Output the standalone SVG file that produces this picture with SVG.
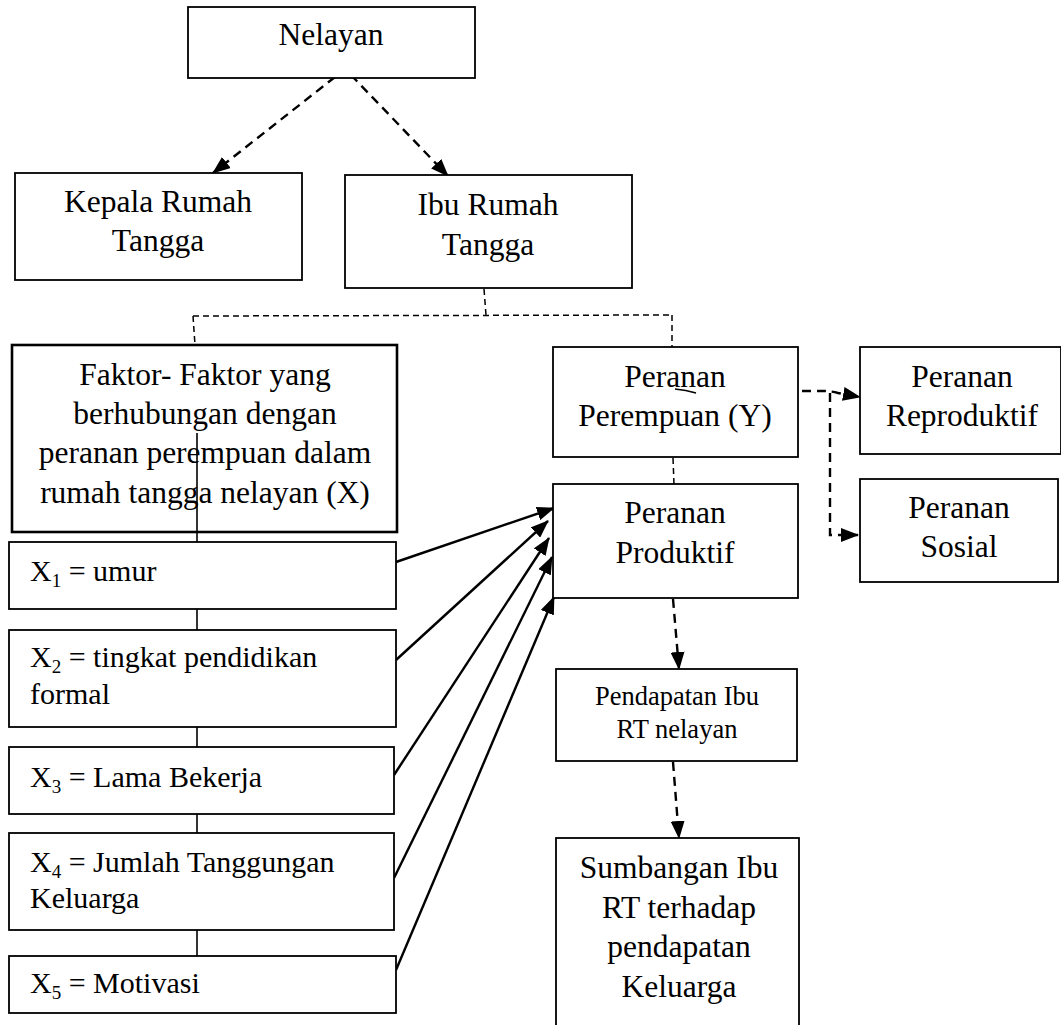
<svg xmlns="http://www.w3.org/2000/svg" width="1061" height="1025" viewBox="0 0 1061 1025">
<style>
  .box { fill: #fff; stroke: #000; stroke-width: 1.8; }
  .thick { fill: #fff; stroke: #000; stroke-width: 2.6; }
  .t { font-family: "Liberation Serif", "Times New Roman", serif; font-size: 31.5px; fill: #000; text-anchor: middle; }
  .ts { font-family: "Liberation Serif", "Times New Roman", serif; font-size: 26.5px; fill: #000; text-anchor: middle; }
  .tx { font-family: "Liberation Serif", "Times New Roman", serif; font-size: 30px; fill: #000; }
  .sub { font-size: 19px; }
  .dash { fill: none; stroke: #000; stroke-width: 2.4; stroke-dasharray: 9 6; }
  .dthin { fill: none; stroke: #000; stroke-width: 1.5; stroke-dasharray: 6 4; }
  .solid { fill: none; stroke: #000; stroke-width: 2.4; }
  .thin { fill: none; stroke: #000; stroke-width: 1.6; }
</style>
<defs>
  <marker id="ah" markerUnits="userSpaceOnUse" markerWidth="18" markerHeight="14" viewBox="0 0 18 14" refX="17" refY="7" orient="auto">
    <path d="M0,0 L18,7 L0,14 Z" fill="#000"/>
  </marker>
</defs>
<rect width="1061" height="1025" fill="#fff"/>

<g id="node-faktor">
  <rect class="thick" x="12" y="345" width="385" height="187"/>
  <text class="t" x="205" y="385">Faktor- Faktor yang</text>
  <text class="t" x="205" y="424">berhubungan dengan</text>
  <text class="t" x="205" y="463">peranan perempuan dalam</text>
  <text class="t" x="205" y="503">rumah tangga nelayan (X)</text>
</g>

<g id="connectors">
  <path class="dash" d="M335,77 L213,173" marker-end="url(#ah)"/>
  <path class="dash" d="M351,75 L448,176" marker-end="url(#ah)"/>
  <path class="dthin" d="M484,289 L486,315"/>
  <path class="dthin" d="M193,316 L672,315"/>
  <path class="dthin" d="M193,316 L195,345"/>
  <path class="dthin" d="M672,315 L672,347"/>
  <path class="dthin" d="M673,458 L674,484"/>
  <path class="thin" d="M197,433 L197,956"/>
  <path class="solid" d="M396,562 L554,508" marker-end="url(#ah)"/>
  <path class="solid" d="M396,660 L548,521" marker-end="url(#ah)"/>
  <path class="solid" d="M394,775 L549,538" marker-end="url(#ah)"/>
  <path class="solid" d="M394,878 L552,557" marker-end="url(#ah)"/>
  <path class="solid" d="M396,970 L554,597" marker-end="url(#ah)"/>
  <path class="dash" d="M673,599 L679,669" marker-end="url(#ah)"/>
  <path class="dash" d="M673,762 L679,838" marker-end="url(#ah)"/>
  <path class="dash" d="M802,391 L825,391 Q831,391 838,393 L860,397" marker-end="url(#ah)"/>
  <path class="dash" d="M830,393 L830,535 L858,535" marker-end="url(#ah)"/>
</g>

<g id="node-nelayan">
  <rect class="box" x="188" y="7" width="287" height="71"/>
  <text class="t" x="331" y="45">Nelayan</text>
</g>
<g id="node-kepala">
  <rect class="box" x="15" y="173" width="287" height="107"/>
  <text class="t" x="158" y="212">Kepala Rumah</text>
  <text class="t" x="158" y="251">Tangga</text>
</g>
<g id="node-ibu">
  <rect class="box" x="345" y="175" width="287" height="113"/>
  <text class="t" x="488" y="215">Ibu Rumah</text>
  <text class="t" x="488" y="255">Tangga</text>
</g>
<g id="node-x1">
  <rect class="box" x="9" y="542" width="387" height="67"/>
  <text class="tx" x="30" y="581">X<tspan class="sub" dy="6">1</tspan><tspan dy="-6"> = umur</tspan></text>
</g>
<g id="node-x2">
  <rect class="box" x="9" y="630" width="387" height="97"/>
  <text class="tx" x="30" y="667">X<tspan class="sub" dy="6">2</tspan><tspan dy="-6"> = tingkat pendidikan</tspan></text>
  <text class="tx" x="30" y="704">formal</text>
</g>
<g id="node-x3">
  <rect class="box" x="9" y="747" width="385" height="67"/>
  <text class="tx" x="30" y="787">X<tspan class="sub" dy="6">3</tspan><tspan dy="-6"> = Lama Bekerja</tspan></text>
</g>
<g id="node-x4">
  <rect class="box" x="9" y="833" width="385" height="97"/>
  <text class="tx" x="30" y="872">X<tspan class="sub" dy="6">4</tspan><tspan dy="-6"> = Jumlah Tanggungan</tspan></text>
  <text class="tx" x="30" y="908">Keluarga</text>
</g>
<g id="node-x5">
  <rect class="box" x="9" y="956" width="387" height="57"/>
  <text class="tx" x="30" y="993">X<tspan class="sub" dy="6">5</tspan><tspan dy="-6"> = Motivasi</tspan></text>
</g>
<g id="node-perempuan">
  <rect class="box" x="553" y="347" width="245" height="110"/>
  <text class="t" x="675" y="387">Peranan</text>
  <text class="t" x="675" y="426">Perempuan (Y)</text>
  <path d="M675,389 Q686,390 696,393" fill="none" stroke="#000" stroke-width="1.5"/>
</g>
<g id="node-produktif">
  <rect class="box" x="553" y="484" width="245" height="114"/>
  <text class="t" x="675" y="523">Peranan</text>
  <text class="t" x="675" y="563">Produktif</text>
</g>
<g id="node-reproduktif">
  <rect class="box" x="860" y="347" width="201" height="107"/>
  <text class="t" x="962" y="387">Peranan</text>
  <text class="t" x="962" y="426">Reproduktif</text>
</g>
<g id="node-sosial">
  <rect class="box" x="860" y="479" width="198" height="103"/>
  <text class="t" x="959" y="518">Peranan</text>
  <text class="t" x="959" y="557">Sosial</text>
</g>
<g id="node-pendapatan">
  <rect class="box" x="556" y="669" width="241" height="92"/>
  <text class="ts" x="677" y="705">Pendapatan Ibu</text>
  <text class="ts" x="677" y="738">RT nelayan</text>
</g>
<g id="node-sumbangan">
  <rect class="box" x="556" y="838" width="243" height="200"/>
  <text class="t" x="679" y="878">Sumbangan Ibu</text>
  <text class="t" x="679" y="918">RT terhadap</text>
  <text class="t" x="679" y="957">pendapatan</text>
  <text class="t" x="679" y="997">Keluarga</text>
</g>
</svg>
